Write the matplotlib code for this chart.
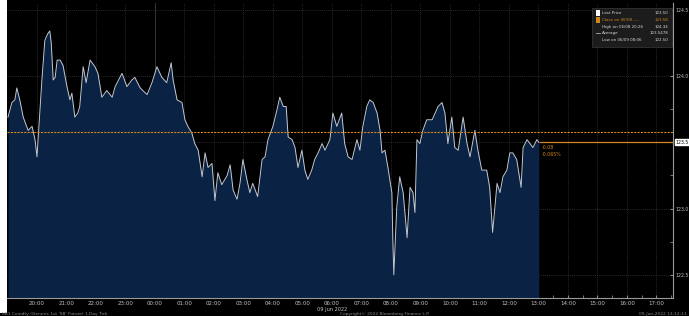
import numpy as np
import pandas as pd
import matplotlib
matplotlib.use('Agg')
import matplotlib.pyplot as plt
import matplotlib.dates as mdates
from matplotlib.patches import Rectangle

# SB1 Comdty, ticks del 08/06 19:00 al 09/06 13:01 (minutos desde el inicio)
inicio = pd.Timestamp('2022-06-08 19:00')
minutos = [1, 9, 15, 19, 25, 32, 42, 50, 56, 60, 64, 70, 76, 82, 86, 89, 93, 97,
           101, 107, 113, 121, 127, 131, 137, 143, 147, 154, 160, 168, 178, 184,
           192, 202, 213, 219, 233, 243, 253, 259, 270, 284, 294, 304, 314, 324,
           333, 337, 345, 355, 361, 367, 375, 381, 388, 396, 402, 408, 416, 422,
           428, 436, 447, 453, 459, 467, 473, 479, 487, 493, 499, 509, 518, 524,
           530, 540, 548, 554, 561, 567, 571, 579, 585, 591, 599, 605, 611, 619,
           625, 632, 640, 646, 656, 662, 670, 680, 686, 693, 701, 711, 717, 723,
           731, 737, 744, 752, 758, 762, 768, 774, 782, 784, 786, 792, 798, 805,
           813, 819, 825, 829, 833, 839, 845, 853, 864, 870, 876, 884, 890, 896,
           904, 910, 917, 927, 935, 941, 951, 957, 965, 975, 981, 987, 996, 1002,
           1008, 1016, 1022, 1028, 1036, 1045, 1049, 1057, 1063, 1069, 1077, 1081]
precio = [123.69, 123.80, 123.82, 123.91, 123.82, 123.69, 123.59, 123.62, 123.52,
          123.39, 123.62, 123.97, 124.27, 124.32, 124.34, 124.25, 123.97, 123.99,
          124.12, 124.12, 124.08, 123.92, 123.82, 123.87, 123.69, 123.72, 123.77,
          124.07, 123.95, 124.12, 124.07, 124.02, 123.84, 123.89, 123.84, 123.92,
          124.02, 123.92, 123.97, 123.99, 123.91, 123.86, 123.95, 124.07, 123.99,
          123.95, 124.10, 123.97, 123.82, 123.80, 123.67, 123.62, 123.57, 123.49,
          123.44, 123.24, 123.42, 123.31, 123.34, 123.06, 123.27, 123.18, 123.25,
          123.33, 123.14, 123.07, 123.19, 123.37, 123.22, 123.12, 123.19, 123.09,
          123.37, 123.39, 123.52, 123.62, 123.74, 123.84, 123.77, 123.77, 123.54,
          123.52, 123.46, 123.31, 123.44, 123.29, 123.22, 123.29, 123.37, 123.42,
          123.49, 123.44, 123.52, 123.72, 123.62, 123.72, 123.49, 123.39, 123.37,
          123.52, 123.44, 123.62, 123.77, 123.82, 123.80, 123.72, 123.59, 123.42,
          123.44, 123.31, 123.12, 122.76, 122.50, 123.01, 123.24, 123.12, 122.78,
          123.16, 123.12, 122.97, 123.52, 123.49, 123.59, 123.67, 123.67, 123.72,
          123.77, 123.80, 123.72, 123.49, 123.69, 123.46, 123.44, 123.69, 123.49,
          123.39, 123.59, 123.44, 123.29, 123.29, 123.16, 122.82, 123.19, 123.12,
          123.24, 123.29, 123.42, 123.42, 123.37, 123.16, 123.46, 123.52, 123.49,
          123.46, 123.52, 123.50]
tiempo = inicio + pd.to_timedelta(minutos, unit='m')

ultimo = 123.50
cierre_previo = 123.58
maximo = 124.34
minimo = 122.50
promedio = 123.5478
y_ticks = [122.5, 123.0, 123.5, 124.0, 124.5]
horas = pd.date_range('2022-06-08 20:00', '2022-06-09 17:00', freq='h')
medias_horas = pd.date_range('2022-06-08 19:30', '2022-06-09 17:30', freq='h')

y_min, y_max = 122.325, 124.551
x_min = inicio - pd.Timedelta(minutes=1)
x_max = inicio + pd.Timedelta(minutes=1354)

naranja = '#d2861e'
gris_txt = '#c4c4c4'

fig = plt.figure(figsize=(6.89, 3.16), dpi=100, facecolor='black')
ax = fig.add_axes([7 / 689, 18 / 316, 666 / 689, 295 / 316])
ax.set_facecolor('black')

ax.fill_between(tiempo, precio, y_min, color='#0a2244', lw=0, zorder=2)
ax.plot(tiempo, precio, color='#c2c8d2', lw=0.7, zorder=3)

# lineas de cierre anterior y ultimo precio
ax.axhline(cierre_previo, color=naranja, ls=(0, (2, 1)), lw=0.8, zorder=4)
ax.hlines(ultimo, tiempo[-1], x_max, color=naranja, lw=0.9, zorder=4)
cambio = ultimo - cierre_previo
ax.text(tiempo[-1] + pd.Timedelta(minutes=5), ultimo - 0.02, f'{cambio:.2f}',
        color=naranja, fontsize=3.4, va='top', zorder=5)
ax.text(tiempo[-1] + pd.Timedelta(minutes=5), ultimo - 0.075,
        f'{cambio / cierre_previo * 100:.3f}%', color=naranja, fontsize=3.4,
        va='top', zorder=5)

ax.set_xlim(x_min, x_max)
ax.set_ylim(y_min, y_max)

ax.set_xticks(horas)
ax.set_xticks(medias_horas, minor=True)
ax.xaxis.set_major_formatter(mdates.DateFormatter('%H:%M'))
ax.yaxis.tick_right()
ax.set_yticks(y_ticks)
ax.set_yticks(np.arange(122.5, 124.6, 0.25), minor=True)
ax.set_yticklabels(['' if v == ultimo else f'{v:.1f}' for v in y_ticks])

ax.tick_params(axis='x', which='both', direction='in', length=2, color='#8a8a8a',
               labelsize=4, labelcolor=gris_txt, pad=2)
ax.tick_params(axis='y', which='both', direction='in', length=2, color='#8a8a8a',
               labelsize=3.3, labelcolor=gris_txt, pad=1.5)

ax.grid(True, which='major', color='#383838', ls=(0, (1, 1.5)), lw=0.6, zorder=1)
ax.axvline(pd.Timestamp('2022-06-09 00:00'), color='#3e3e3e', lw=0.6, zorder=1)
for lado in ['top', 'left']:
    ax.spines[lado].set_visible(False)
for lado in ['right', 'bottom']:
    ax.spines[lado].set_color('#9a9a9a')
    ax.spines[lado].set_linewidth(0.8)

# etiqueta del ultimo precio
ax.text(1.004, ultimo, f'{ultimo:.1f}', transform=ax.get_yaxis_transform(),
        fontsize=3.3, color='black', va='center', ha='left', clip_on=False,
        bbox=dict(boxstyle='square,pad=0.15', fc='white', ec='white'), zorder=6)

# leyenda
ax.add_patch(Rectangle((0.879, 0.852), 0.119, 0.132, transform=ax.transAxes,
                       fc='#1c1c1c', ec='#3a3a3a', lw=0.5, zorder=6))
filas = [('Last Price', f'{ultimo:.2f}', 'white'),
         ('Close on 06/08 ----', f'{cierre_previo:.2f}', naranja),
         ('High on 06/08 20:26', f'{maximo:.2f}', None),
         ('Average', f'{promedio:.4f}', None),
         ('Low on 06/09 08:06', f'{minimo:.2f}', None)]
filas_y = [0.966, 0.943, 0.920, 0.898, 0.876]
for (etiqueta, valor, marca), fy in zip(filas, filas_y):
    if marca:
        ax.add_patch(Rectangle((0.884, fy - 0.01), 0.006, 0.02, transform=ax.transAxes,
                               fc=marca, ec='none', zorder=7))
    elif etiqueta == 'Average':
        ax.plot([0.884, 0.890], [fy, fy], transform=ax.transAxes, color='#cccccc',
                lw=0.5, zorder=7)
    color = naranja if marca == naranja else '#d8d8d8'
    ax.text(0.893, fy, etiqueta, transform=ax.transAxes, fontsize=2.9, color=color,
            va='center', zorder=7)
    ax.text(0.993, fy, valor, transform=ax.transAxes, fontsize=2.9, color=color,
            va='center', ha='right', zorder=7)

# margen blanco a la izquierda y textos del pie
fig.patches.append(Rectangle((0, 3 / 316), 7 / 689, 1, transform=fig.transFigure,
                             fc='white', ec='none', zorder=0))
fig.text(332 / 689, 1 - 310 / 316, '09 Jun 2022', fontsize=3.6, color=gris_txt,
         ha='center', va='center')
fig.text(2 / 689, 1 - 314 / 316, "SB1 Comdty (Generic 1st 'SB' Future) 1 Day Tick",
         fontsize=3.2, color='#8c8c8c', va='center')
fig.text(340 / 689, 1 - 314 / 316, 'Copyright\u00a9 2022 Bloomberg Finance L.P.',
         fontsize=3.2, color='#8c8c8c', va='center')
fig.text(687 / 689, 1 - 313.5 / 316, '09-Jun-2022 13:12:11',
         fontsize=3.2, color='#8c8c8c', va='center', ha='right')

fig.savefig('out.png', dpi=100, facecolor='black')
